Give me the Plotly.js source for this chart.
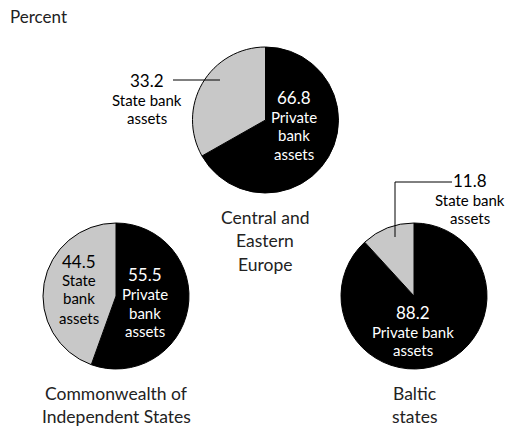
<!DOCTYPE html>
<html>
<head>
<meta charset="utf-8">
<script src="https://cdn.plot.ly/plotly-3.0.1.min.js"></script>
<style>html,body{margin:0;padding:0;background:#fff;}#chart{width:509px;height:429px;}</style>
</head>
<body>
<div id="chart"></div>
<script>
// Data
var regions = ["Central and<br>Eastern<br>Europe", "Commonwealth of<br>Independent States", "Baltic<br>states"];
var sliceLabels = ["Private bank assets", "State bank assets"];
var privateShare = [66.8, 55.5, 88.2];
var stateShare = [33.2, 44.5, 11.8];

var W = 509, H = 429;
function px(x){ return x / W; }
function py(y){ return 1 - y / H; }

// pie geometry (pixel centre, radius)
var centers = [[265.5, 120], [116, 296], [414, 296]];
var R = 73;
var FONT = "Lato, 'Open Sans', sans-serif";
var colors = ["#000000", "#c8c8c8"];

var traces = regions.map(function(r, i){
  var c = centers[i];
  return {
    type: "pie",
    values: [privateShare[i], stateShare[i]],
    labels: sliceLabels,
    sort: false,
    direction: "clockwise",
    rotation: 0,
    textinfo: "none",
    hoverinfo: "label+value",
    marker: {colors: colors, line: {color: "#000", width: 1}},
    domain: {x: [px(c[0]-R), px(c[0]+R)], y: [py(c[1]+R), py(c[1]-R)]},
    showlegend: false
  };
});

function ann(x, y, text, size, color, xanchor){
  return {xref: "paper", yref: "paper", x: px(x), y: py(y), text: text, showarrow: false,
    xanchor: xanchor || "center", yanchor: "middle", borderpad: 0,
    font: {family: FONT, size: size, color: color || "#000"}};
}

var numSize = 17, lblSize = 15, titleSize = 17.5;
var annotations = [
  ann(9, 17, "Percent", 17, "#222", "left"),
  // Central and Eastern Europe
  ann(147, 81, stateShare[0].toFixed(1), numSize),
  ann(147, 100, "State bank", lblSize),
  ann(147, 118, "assets", lblSize),
  ann(294, 97, privateShare[0].toFixed(1), numSize, "#fff"),
  ann(294, 117, "Private", lblSize, "#fff"),
  ann(294, 135, "bank", lblSize, "#fff"),
  ann(294, 154, "assets", lblSize, "#fff"),
  // CIS
  ann(79, 261, stateShare[1].toFixed(1), numSize),
  ann(79, 280, "State", lblSize),
  ann(79, 298, "bank", lblSize),
  ann(79, 318, "assets", lblSize),
  ann(145, 274, privateShare[1].toFixed(1), numSize, "#fff"),
  ann(145, 294, "Private", lblSize, "#fff"),
  ann(145, 313, "bank", lblSize, "#fff"),
  ann(145, 331, "assets", lblSize, "#fff"),
  // Baltic
  ann(470, 180, stateShare[2].toFixed(1), numSize),
  ann(470, 200, "State bank", lblSize),
  ann(470, 218, "assets", lblSize),
  ann(413, 312, privateShare[2].toFixed(1), numSize, "#fff"),
  ann(413, 332, "Private bank", lblSize, "#fff"),
  ann(413, 350, "assets", lblSize, "#fff")
];
// region titles
var titlePos = [[265, 217], [116, 393], [414, 393]];
regions.forEach(function(r, i){
  var lines = r.split("<br>");
  lines.forEach(function(l, j){
    annotations.push(ann(titlePos[i][0], titlePos[i][1] + j * 23.5, l, titleSize, "#222"));
  });
});

var shapes = [
  {type: "line", xref: "paper", yref: "paper", x0: px(173), y0: py(80), x1: px(220), y1: py(80), line: {color: "#000", width: 1}},
  {type: "line", xref: "paper", yref: "paper", x0: px(395), y0: py(182), x1: px(452), y1: py(182), line: {color: "#000", width: 1}},
  {type: "line", xref: "paper", yref: "paper", x0: px(395), y0: py(182), x1: px(395), y1: py(237), line: {color: "#000", width: 1}}
];

var layout = {
  width: W, height: H,
  margin: {l: 0, r: 0, t: 0, b: 0},
  paper_bgcolor: "#fff",
  annotations: annotations,
  shapes: shapes,
  showlegend: false
};

Plotly.newPlot("chart", traces, layout, {displayModeBar: false, staticPlot: true});
</script>
</body>
</html>
